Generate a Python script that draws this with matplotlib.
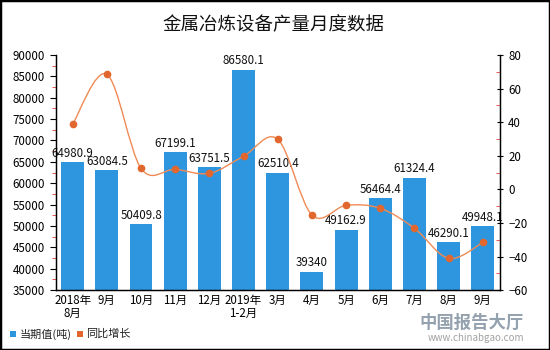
import numpy as np
import matplotlib.pyplot as plt
from matplotlib.path import Path
from matplotlib.patches import PathPatch, Rectangle
from matplotlib.ticker import MultipleLocator

plt.rcParams['font.family'] = ['Noto Sans CJK SC', 'DejaVu Sans']

months = ["2018年\n8月", "9月", "10月", "11月", "12月", "2019年\n1-2月", "3月",
          "4月", "5月", "6月", "7月", "8月", "9月"]
output = [64980.9, 63084.5, 50409.8, 67199.1, 63751.5, 86580.1, 62510.4,
          39340, 49162.9, 56464.4, 61324.4, 46290.1, 49948.1]
growth = [38.7, 68.5, 12.5, 11.9, 9.5, 19.7, 29.8,
          -15.3, -9.5, -11.3, -23.2, -41.1, -31.6]

bar_color = "#2E96DE"
line_color = "#F08A55"
dot_color = "#E2672F"

fig = plt.figure(figsize=(5.5, 3.5), dpi=100)
ax = fig.add_axes([0.101, 0.171, 0.808, 0.672])
ax2 = ax.twinx()

x = np.arange(len(months))
ax.bar(x, output, width=0.67, color=bar_color, zorder=2)
for xi, v in zip(x, output):
    ax.text(xi, v + 500, f"{v:g}", ha="center", va="bottom", fontsize=8.3, color="#111111")

ax.set_ylim(35000, 90000)
ax.set_xlim(-0.5, len(months) - 0.5)
ax.yaxis.set_major_locator(MultipleLocator(5000))
ax.yaxis.set_minor_locator(MultipleLocator(2500))
ax.set_xticks(x)
ax.set_xticklabels(months, fontsize=8.3, linespacing=1.0)
ax.tick_params(axis="x", length=0, pad=3)
ax.tick_params(axis="y", which="major", length=4, labelsize=8.3, direction="out")
ax.tick_params(axis="y", which="minor", length=3, color="#E0403A", direction="out")

# smooth line through the growth points (Catmull-Rom as bezier)
pts = np.column_stack([x, growth]).astype(float)
ext = np.vstack([pts[0], pts, pts[-1]])
verts = [tuple(pts[0])]
codes = [Path.MOVETO]
for i in range(len(pts) - 1):
    p0, p1, p2, p3 = ext[i], ext[i + 1], ext[i + 2], ext[i + 3]
    c1 = p1 + (p2 - p0) / 6
    c2 = p2 - (p3 - p1) / 6
    verts += [tuple(c1), tuple(c2), tuple(p2)]
    codes += [Path.CURVE4] * 3
ax2.add_patch(PathPatch(Path(verts, codes), facecolor="none", edgecolor=line_color, lw=1.0, zorder=3))
ax2.plot(x, growth, "o", color=dot_color, ms=4.5, zorder=4)

ax2.set_ylim(-60, 80)
ax2.yaxis.set_major_locator(MultipleLocator(20))
ax2.yaxis.set_minor_locator(MultipleLocator(10))
ax2.tick_params(axis="y", which="major", length=5, labelsize=8.3, direction="inout")
ax2.tick_params(axis="y", which="minor", length=3, color="#E0403A", direction="in")

for a in (ax, ax2):
    a.spines["top"].set_visible(False)
    for s in ("left", "right", "bottom"):
        a.spines[s].set_color("black")
        a.spines[s].set_linewidth(0.9)

fig.text(0.497, 0.929, "金属冶炼设备产量月度数据", ha="center", va="center", fontsize=13.3, color="#111111")

# legend
fig.patches.append(Rectangle((10 / 550, 1 - 337 / 350), 6 / 550, 6 / 350, transform=fig.transFigure,
                             facecolor=bar_color, edgecolor="none"))
fig.text(20 / 550, 1 - 334 / 350, "当期值(吨)", ha="left", va="center", fontsize=8, color="#222222")
fig.patches.append(Rectangle((77 / 550, 1 - 337 / 350), 6 / 550, 6 / 350, transform=fig.transFigure,
                             facecolor=dot_color, edgecolor="none"))
fig.text(86 / 550, 1 - 334 / 350, "同比增长", ha="left", va="center", fontsize=8, color="#222222")

# watermark
fig.text(0.953, 1 - 323 / 350, "中国报告大厅", ha="right", va="center", fontsize=12.5,
         color="#7A8A9A", fontweight="bold", alpha=0.8)
fig.text(0.953, 1 - 338 / 350, "www.chinabgao.com", ha="right", va="center", fontsize=7,
         color="#8A8A8A", alpha=0.8)

# outer frame
fig.patches.append(Rectangle((0, 0), 1, 1, transform=fig.transFigure, facecolor="none",
                             edgecolor="black", lw=2.5))

fig.savefig("out.png", dpi=100)
